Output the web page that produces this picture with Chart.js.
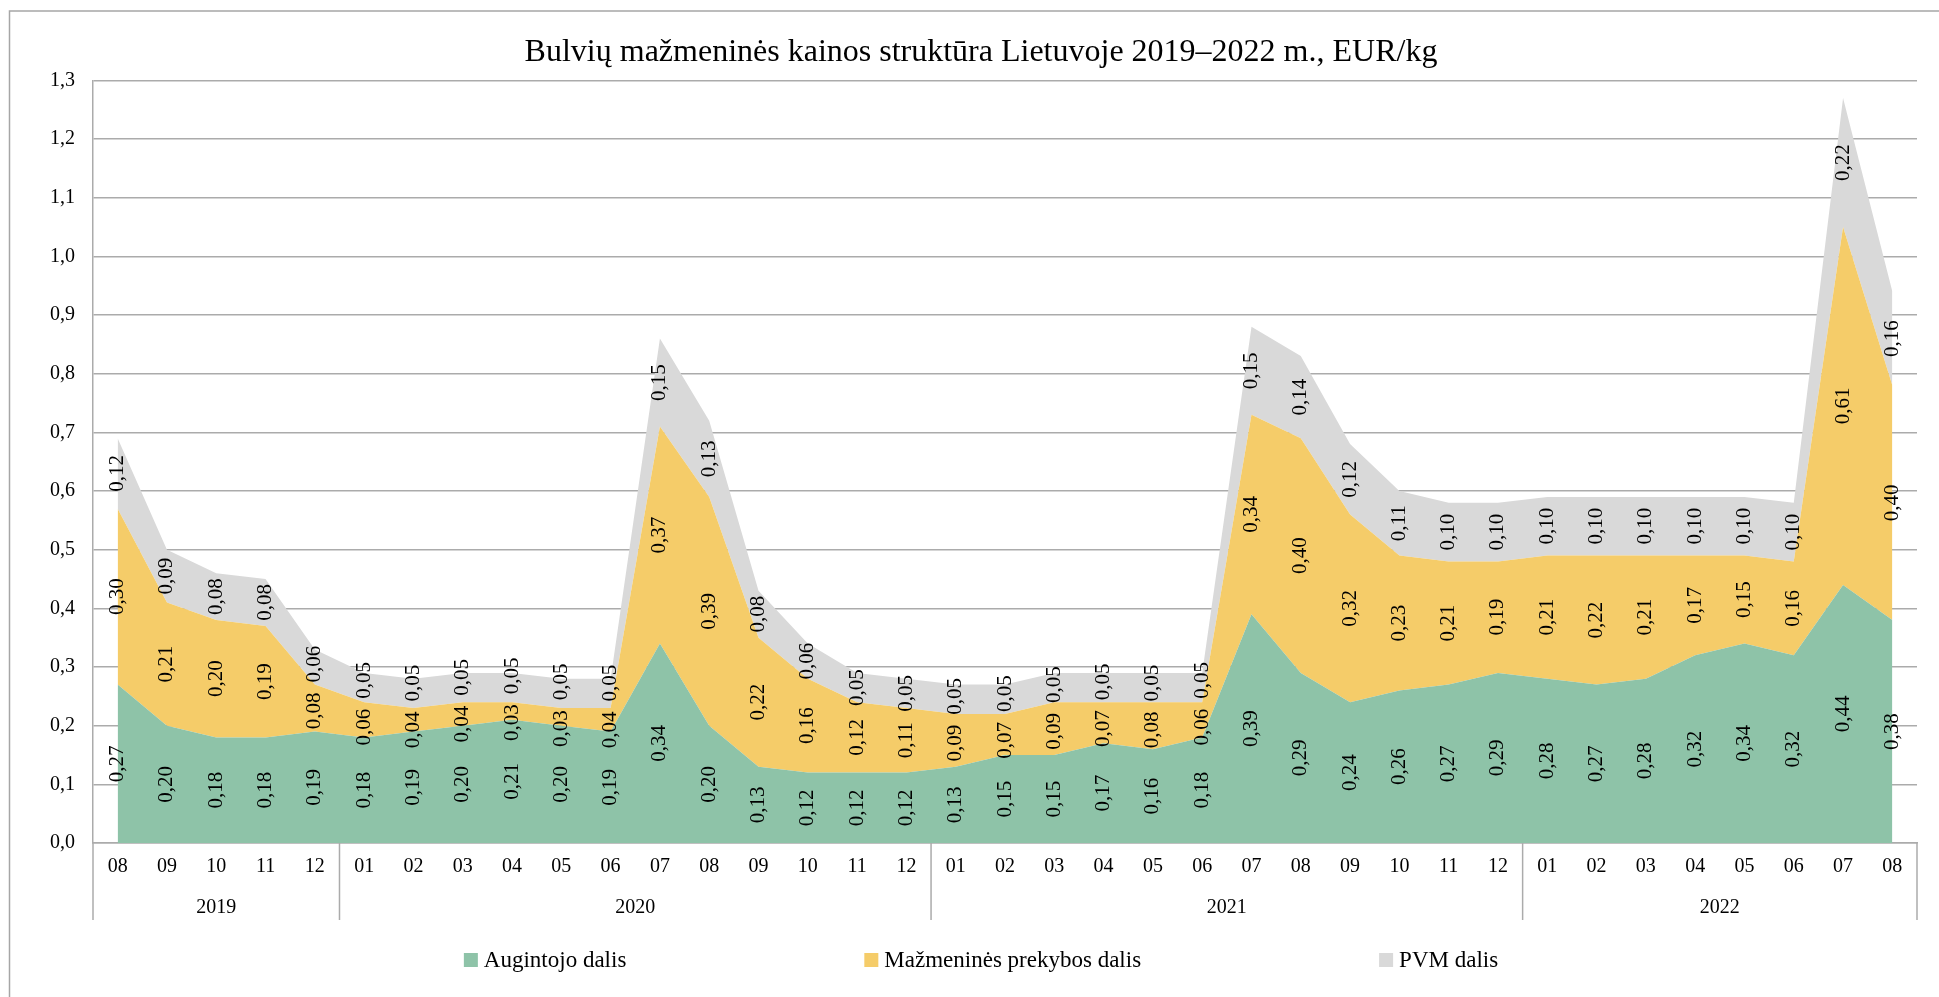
<!DOCTYPE html>
<html>
<head>
<meta charset="utf-8">
<script src="https://cdn.jsdelivr.net/npm/chart.js@4.4.0/dist/chart.umd.min.js"></script>
<style>
html,body{margin:0;padding:0;background:#fff;}
#wrap{width:1939px;height:997px;position:relative;overflow:hidden;}
</style>
</head>
<body>
<div id="wrap"><canvas id="c" width="1939" height="997"></canvas></div>
<script>
// ---- data ----
const months = ['08','09','10','11','12',
  '01','02','03','04','05','06','07','08','09','10','11','12',
  '01','02','03','04','05','06','07','08','09','10','11','12',
  '01','02','03','04','05','06','07','08'];
const years = ['2019','2020','2021','2022'];
const yearCounts = [5,12,12,8];
const augintojo = [0.27,0.20,0.18,0.18,0.19,
  0.18,0.19,0.20,0.21,0.20,0.19,0.34,0.20,0.13,0.12,0.12,0.12,
  0.13,0.15,0.15,0.17,0.16,0.18,0.39,0.29,0.24,0.26,0.27,0.29,
  0.28,0.27,0.28,0.32,0.34,0.32,0.44,0.38];
const mazmenines = [0.30,0.21,0.20,0.19,0.08,
  0.06,0.04,0.04,0.03,0.03,0.04,0.37,0.39,0.22,0.16,0.12,0.11,
  0.09,0.07,0.09,0.07,0.08,0.06,0.34,0.40,0.32,0.23,0.21,0.19,
  0.21,0.22,0.21,0.17,0.15,0.16,0.61,0.40];
const pvm = [0.12,0.09,0.08,0.08,0.06,
  0.05,0.05,0.05,0.05,0.05,0.05,0.15,0.13,0.08,0.06,0.05,0.05,
  0.05,0.05,0.05,0.05,0.05,0.05,0.15,0.14,0.12,0.11,0.10,0.10,
  0.10,0.10,0.10,0.10,0.10,0.10,0.22,0.16];
const seriesNames = ['Augintojo dalis','Mažmeninės prekybos dalis','PVM dalis'];
const seriesColors = ['#8EC3A8','#F5CC69','#D9D9D9'];
const yMin = 0, yMax = 1.3, yStep = 0.1;
const titleText = 'Bulvių mažmeninės kainos struktūra Lietuvoje 2019–2022 m., EUR/kg';

// ---- style ----
const FONT = '"Liberation Serif", "Times New Roman", serif';
const GRID = '#ABABAB';
const fmt = v => v.toFixed(2).replace('.', ',');

const borderPlugin = {
  id: 'outerBorder',
  beforeDraw(chart) {
    const ctx = chart.ctx;
    ctx.save();
    ctx.strokeStyle = '#A6A6A6';
    ctx.lineWidth = 1.5;
    ctx.strokeRect(9.5, 11, chart.width + 50, chart.height + 50);
    ctx.restore();
  },
  afterLayout(chart) {
    const t = chart.titleBlock;
    if (t) { const d = 981 - (t.left + t.right) / 2; t.left += d; t.right += d; }
  }
};

const labelPlugin = {
  id: 'stackLabels',
  afterDatasetsDraw(chart) {
    const ctx = chart.ctx, ys = chart.scales.y;
    const n = chart.data.labels.length;
    const nd = chart.data.datasets.length;
    const GAP = 10;
    ctx.save();
    ctx.font = '21px ' + FONT;
    ctx.fillStyle = '#000';
    ctx.textAlign = 'center';
    ctx.textBaseline = 'middle';
    for (let i = 0; i < n; i++) {
      let cum = 0;
      const items = [];
      for (let di = 0; di < nd; di++) {
        const v = chart.data.datasets[di].data[i];
        const x = chart.getDatasetMeta(di).data[i].x;
        const y0 = ys.getPixelForValue(cum);
        const y1 = ys.getPixelForValue(cum + v);
        cum += v;
        const txt = fmt(v);
        items.push({ x, c: (y0 + y1) / 2, h: ctx.measureText(txt).width / 2, txt });
      }
      // resolve overlaps between stacked labels in this column
      for (let it = 0; it < 10; it++) {
        let moved = false;
        for (let k = 0; k < nd - 1; k++) {
          const a = items[k], b = items[k + 1];
          const need = a.h + b.h + GAP;
          const sep = a.c - b.c;
          if (sep < need - 0.1) {
            const d = (need - sep) / 2;
            a.c += d; b.c -= d; moved = true;
          }
        }
        const floor = ys.getPixelForValue(0) - 2;
        if (items[0].c + items[0].h > floor) { items[0].c = floor - items[0].h; moved = true; }
        if (!moved) break;
      }
      items.forEach(o => {
        ctx.save();
        ctx.translate(o.x, o.c);
        ctx.rotate(-Math.PI / 2);
        ctx.fillText(o.txt, 0, 0);
        ctx.restore();
      });
    }
    ctx.restore();
  }
};

const groupAxisPlugin = {
  id: 'groupAxis',
  afterDraw(chart) {
    const ctx = chart.ctx, xs = chart.scales.x, area = chart.chartArea;
    const top = area.bottom, bottom = area.bottom + 77;
    ctx.save();
    ctx.strokeStyle = GRID;
    ctx.lineWidth = 1.5;
    const bounds = [area.left];
    let idx = 0;
    yearCounts.forEach((c, g) => {
      idx += c;
      if (idx < months.length) {
        bounds.push((xs.getPixelForValue(idx - 1) + xs.getPixelForValue(idx)) / 2);
      } else {
        bounds.push(area.right);
      }
    });
    bounds.forEach(b => {
      ctx.beginPath(); ctx.moveTo(b, top); ctx.lineTo(b, bottom); ctx.stroke();
    });
    ctx.fillStyle = '#000';
    ctx.font = '20px ' + FONT;
    ctx.textAlign = 'center';
    ctx.textBaseline = 'middle';
    years.forEach((y, g) => {
      ctx.fillText(y, (bounds[g] + bounds[g + 1]) / 2, area.bottom + 65);
    });
    // legend
    ctx.font = '23px ' + FONT;
    ctx.textAlign = 'left';
    const box = 14, gapBox = 6, gapItem = 238;
    const widths = seriesNames.map(s => ctx.measureText(s).width);
    const total = widths.reduce((a, b) => a + b, 0) + seriesNames.length * (box + gapBox) + gapItem * (seriesNames.length - 1);
    let x = 981 - total / 2;
    const ly = area.bottom + 117;
    chart.data.datasets.forEach((ds, i) => {
      ctx.fillStyle = ds.backgroundColor;
      ctx.fillRect(x, ly - box / 2, box, box);
      ctx.fillStyle = '#000';
      ctx.fillText(ds.label, x + box + gapBox, ly + 1);
      x += box + gapBox + widths[i] + gapItem;
    });
    ctx.restore();
  }
};

const mk = (label, data, color, fill) => ({
  label, data, backgroundColor: color, borderWidth: 0, borderColor: color,
  pointRadius: 0, pointHoverRadius: 0, tension: 0, fill
});

new Chart(document.getElementById('c'), {
  type: 'line',
  data: {
    labels: months,
    datasets: [
      mk(seriesNames[0], augintojo, seriesColors[0], 'origin'),
      mk(seriesNames[1], mazmenines, seriesColors[1], '-1'),
      mk(seriesNames[2], pvm, seriesColors[2], '-1')
    ]
  },
  options: {
    responsive: false,
    animation: false,
    devicePixelRatio: 1,
    layout: { padding: { left: 12, right: 22, top: 0, bottom: 77 } },
    plugins: {
      legend: { display: false },
      tooltip: { enabled: false },
      title: {
        display: true, text: titleText, color: '#000',
        font: { family: FONT, size: 32, weight: 'normal' },
        padding: { top: 33, bottom: 9 }
      }
    },
    scales: {
      x: {
        offset: true,
        grid: { display: false, drawTicks: false },
        border: { display: true, color: GRID, width: 1.5 },
        ticks: { color: '#000', font: { family: FONT, size: 20 }, autoSkip: false, maxRotation: 0, padding: 12 },
        afterFit(s) { s.height = 77; }
      },
      y: {
        stacked: true,
        min: yMin, max: yMax,
        grid: { color: GRID, lineWidth: 1.5, drawTicks: false },
        border: { display: true, color: GRID, width: 1.5 },
        ticks: { stepSize: yStep, color: '#000', font: { family: FONT, size: 20 }, padding: 18,
          callback: v => (Math.round(v * 10) / 10).toFixed(1).replace('.', ',') },
        afterFit(s) { s.width = 81; }
      }
    }
  },
  plugins: [borderPlugin, labelPlugin, groupAxisPlugin]
});
</script>
</body>
</html>
